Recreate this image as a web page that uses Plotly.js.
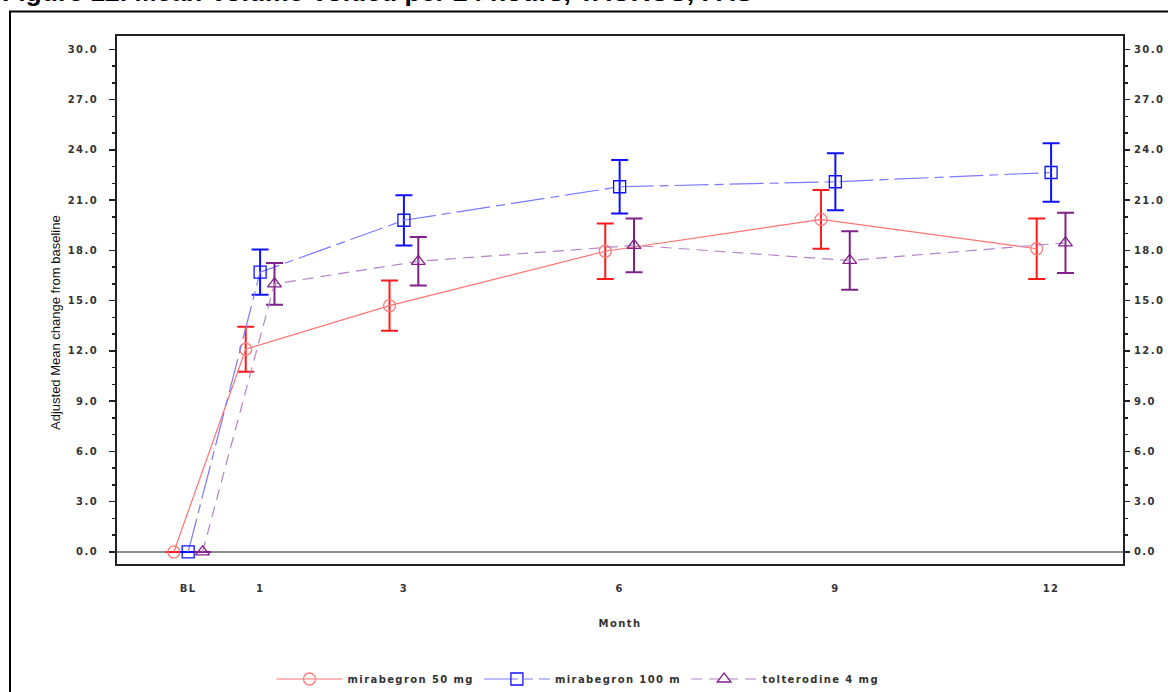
<!DOCTYPE html>
<html>
<head>
<meta charset="utf-8">
<script src="https://cdn.plot.ly/plotly-3.0.1.min.js"></script>
<style>
  html, body { margin: 0; padding: 0; background: #fff; }
  #chart { width: 1168px; height: 692px; }
  .xtick text, .ytick text, .y2tick text, .legendtext, .xtitle { letter-spacing: 1.4px; }
</style>
</head>
<body>
<div id="chart"></div>
<script>
// ---- data ----
const months = [0, 1, 3, 6, 9, 12];
const tickLabels = ['BL', '1', '3', '6', '9', '12'];
const seriesNames = ['mirabegron 50 mg', 'mirabegron 100 m', 'tolterodine 4 mg'];
const mira50 = [0, 12.1, 14.7, 17.95, 19.85, 18.1];
const mira50Err = [0, 1.35, 1.5, 1.65, 1.75, 1.8];
const mira100 = [0, 16.7, 19.8, 21.8, 22.1, 22.65];
const mira100Err = [0, 1.35, 1.5, 1.6, 1.7, 1.75];
const tolt4 = [0, 16.0, 17.35, 18.3, 17.4, 18.45];
const tolt4Err = [0, 1.25, 1.45, 1.6, 1.75, 1.8];
const yTicks = [0, 3, 6, 9, 12, 15, 18, 21, 24, 27, 30];

// ---- styling ----
const dodge = 0.2;
const tickFont = { family: 'DejaVu Sans', size: 10, color: '#333', weight: 'bold' };

function series(name, y, err, offset, lineColor, dash, markerColor, symbol, errColor) {
  return {
    type: 'scatter', mode: 'lines+markers', name: name,
    x: months.map(m => m + offset), y: y,
    line: { color: lineColor, width: 1.2, dash: dash },
    marker: { symbol: symbol, size: 12, color: markerColor, line: { color: markerColor, width: 1.3 } },
    error_y: { type: 'data', array: err, visible: true, color: errColor, thickness: 2, width: 8.5 },
    hoverinfo: 'x+y'
  };
}

const traces = [
  series(seriesNames[0], mira50, mira50Err, -dodge, '#ff7373', 'solid', '#ff7b7b', 'circle-open', '#ff1a1a'),
  series(seriesNames[1], mira100, mira100Err, 0, '#7a7aff', '34px,6px,9px,6px', '#1010ff', 'square-open', '#1010ff'),
  series(seriesNames[2], tolt4, tolt4Err, dodge, '#b482c8', '11px,7px', '#80208a', 'triangle-up-open', '#80208a'),
  { type: 'scatter', mode: 'markers', x: months, y: mira50, yaxis: 'y2', showlegend: false,
    marker: { opacity: 0 }, hoverinfo: 'skip' }
];

const L = 117, R = 1123, T = 36, B = 564, W = 1168, H = 692;
const px = v => (v - L) / (R - L);
const py = v => (B - v) / (B - T);

const yCommon = {
  range: [-0.72, 30.8], tickvals: yTicks, tickformat: '.1f',
  ticks: 'outside', ticklen: 6, tickwidth: 1.5, tickcolor: '#222',
  minor: { dtick: 1, tick0: 0, ticks: 'outside', ticklen: 3.5, tickwidth: 1.5, tickcolor: '#222' },
  tickfont: tickFont, showgrid: false, fixedrange: true
};

const layout = {
  width: W, height: H,
  margin: { l: L, r: W - R, t: T, b: H - B, pad: 0, autoexpand: false },
  paper_bgcolor: '#fff', plot_bgcolor: '#fff',
  showlegend: true,
  font: { family: 'DejaVu Sans', color: '#222' },
  xaxis: {
    range: [-0.99, 13.0], tickvals: months, ticktext: tickLabels,
    ticks: '', tickfont: tickFont, ticklabelstandoff: 14,
    showline: true, linecolor: '#222', linewidth: 2, mirror: true,
    showgrid: false, zeroline: false, fixedrange: true, automargin: false,
    title: { text: 'Month', font: { family: 'DejaVu Sans', size: 10, color: '#333', weight: 'bold' }, standoff: 27 }
  },
  yaxis: Object.assign({}, yCommon, {
    showline: true, linecolor: '#222', linewidth: 2, mirror: true,
    zeroline: true, zerolinecolor: '#8c8c8c', zerolinewidth: 1.5,
    ticklabelstandoff: 9, automargin: false
  }),
  yaxis2: Object.assign({}, yCommon, {
    overlaying: 'y', side: 'right', showline: false, zeroline: false, ticklabelstandoff: 2, automargin: false
  }),
  legend: {
    orientation: 'h', x: px(578), xanchor: 'center', y: py(679), yanchor: 'middle',
    font: tickFont, itemwidth: 66, bgcolor: 'rgba(0,0,0,0)', traceorder: 'normal'
  },
  shapes: [
    { type: 'rect', xref: 'paper', yref: 'paper', x0: px(10), x1: px(1200), y0: py(720), y1: py(11.5),
      line: { color: '#000', width: 2 }, fillcolor: 'rgba(0,0,0,0)', layer: 'below' }
  ],
  annotations: [
    { text: 'Figure 12. Mean Volume Voided per 24 hours, TAURUS, FAS', showarrow: false,
      xref: 'paper', yref: 'paper', x: px(0), xanchor: 'left', y: py(9), yanchor: 'bottom',
      font: { family: 'Liberation Sans', size: 26.5, color: '#000', weight: 'bold' } },
    { text: 'Adjusted Mean change from baseline', showarrow: false, textangle: -90,
      xref: 'paper', yref: 'paper', x: px(55), xanchor: 'center', y: py(323), yanchor: 'middle',
      font: { family: 'Liberation Sans', size: 13, color: '#111' } }
  ]
};

Plotly.newPlot('chart', traces, layout, { displayModeBar: false, staticPlot: true });
</script>
</body>
</html>
